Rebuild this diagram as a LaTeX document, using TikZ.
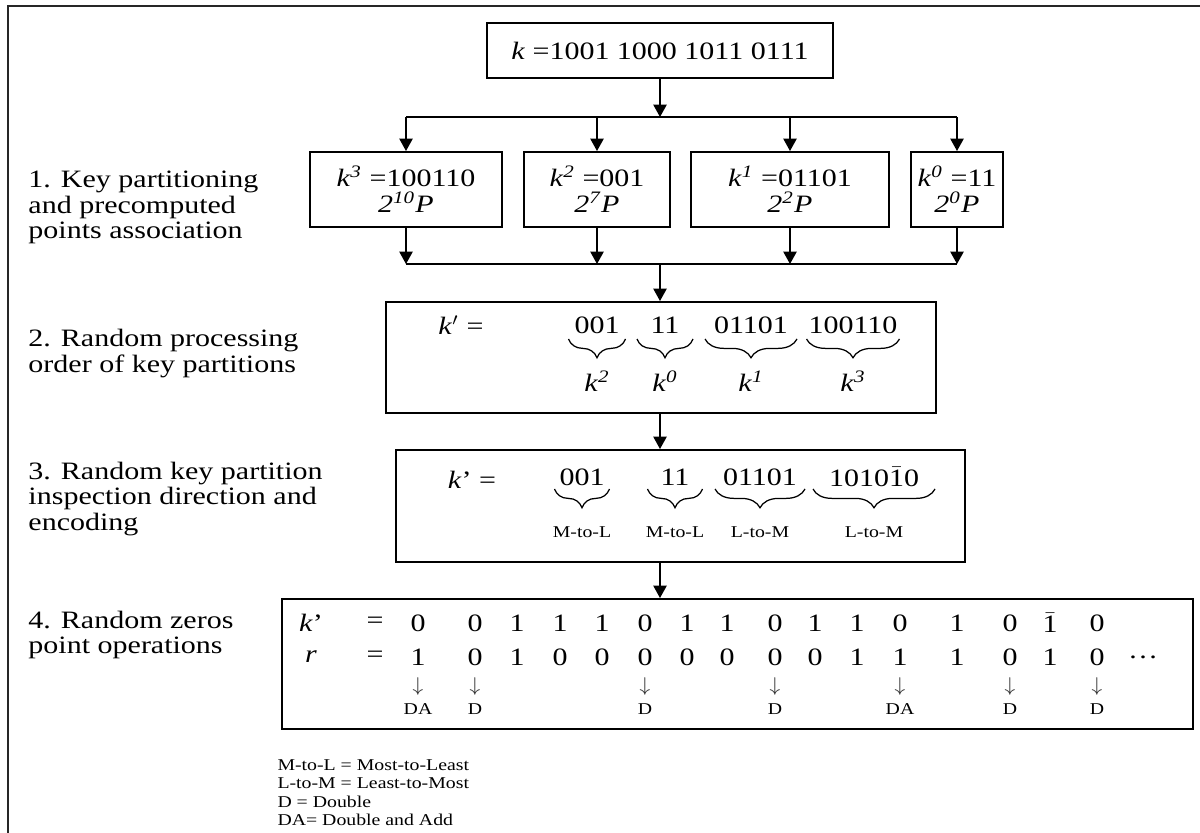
\documentclass[tikz,border=0pt]{standalone}
\usepackage{fontspec}
\setmainfont{Liberation Serif}[FakeStretch=1.2]
\usepackage{tikz}
\usetikzlibrary{arrows.meta,decorations.pathreplacing}
\tikzstyle{stagebox}=[draw, line width=0.8pt, inner sep=0pt, font=\fontsize{10}{10.4}\selectfont, align=center]
\tikzstyle{edge}=[line width=0.5pt]
\tikzstyle{dedge}=[edge,-{Triangle[length=5pt,width=5.4pt]}]
\tikzstyle{labelsty}=[font=\fontsize{10}{10.2}\selectfont, inner sep=0pt, align=left, anchor=west]
\tikzstyle{bits}=[font=\fontsize{10}{10.4}\selectfont, inner sep=0pt]
\tikzstyle{smallsty}=[font=\fontsize{6.6}{7.4}\selectfont, inner sep=0pt]
\tikzstyle{downsty}=[font=\fontsize{8.5}{8.5}\selectfont, inner sep=0pt, black!80]
\tikzstyle{brc}=[decorate, decoration={brace, mirror, amplitude=7.5pt}, line width=0.5pt]
\newcommand{\kpart}[1]{\textit{k}\textsuperscript{\textit{#1}}}
\newcommand{\negone}{$\bar{\mbox{1}}$}

\begin{document}
\begin{tikzpicture}[x=0.4pt,y=-0.4pt]
\useasboundingbox (0,0) rectangle (1200,833);
\draw[line width=0.8pt, black!85] (8,833) -- (8,6) -- (1200,6);

% key and partitions
\node[stagebox, minimum width=138.4pt, minimum height=22pt] (key) at (660,50.5) {\textit{k} =1001 1000 1011 0111};
\node[stagebox, minimum width=76.8pt, minimum height=30pt] (k3) at (406,189.5) {\kpart{3} =100110\\\textit{2\textsuperscript{10}P}};
\node[stagebox, minimum width=58.4pt, minimum height=30pt] (k2) at (597,189.5) {\kpart{2} =001\\\textit{2\textsuperscript{7}P}};
\node[stagebox, minimum width=79.2pt, minimum height=30pt] (k1) at (790,189.5) {\kpart{1} =01101\\\textit{2\textsuperscript{2}P}};
\node[stagebox, minimum width=36.8pt, minimum height=30pt] (k0) at (957,189.5) {\kpart{0} =11\\\textit{2\textsuperscript{0}P}};

\coordinate (split) at (660,117);
\coordinate (merge) at (660,264);
\draw[dedge] (key.south) -- (split);
\draw[edge] (split -| k3) -- (split -| k0);
\draw[edge] (merge -| k3) -- (merge -| k0);
\foreach \p in {k3,k2,k1,k0}{
  \draw[dedge] (split -| \p) -- (\p.north);
  \draw[dedge] (\p.south) -- (merge -| \p);
}

% stage boxes
\node[stagebox, minimum width=220pt, minimum height=44.4pt] (order) at (661,357.5) {};
\node[stagebox, minimum width=227.6pt, minimum height=44.8pt] (dir) at (680.5,506) {};
\node[stagebox, minimum width=364.4pt, minimum height=52pt] (zeros) at (737.5,664) {};
\draw[dedge] (merge) -- (merge |- order.north);
\draw[dedge] (merge |- order.south) -- (merge |- dir.north);
\draw[dedge] (merge |- dir.south) -- (merge |- zeros.north);

% step 2
\node[bits] (kord) at (461,325) {\textit{k}$'$ =};
\foreach \c/\w/\s/\l in {597/57/001/2, 665/56/11/0, 751/92/01101/1, 853/93/100110/3}{
  \node[bits] (o\l) at (\c,325) {\s};
  \draw[brc] ({\c-\w/2},339) -- ({\c+\w/2},339);
  \node[bits] (ol\l) at (\c,381) {\kpart{\l}};
}

% step 3
\node[bits] (kdir) at (472,480) {\textit{k}’ =};
\foreach \c/\w/\s/\d/\n in {582/55/001/M-to-L/a, 675/55/11/M-to-L/b, 760/90/01101/L-to-M/c, 874/122/1010\negone0/L-to-M/d}{
  \node[bits] (d\n) at (\c,477) {\s};
  \draw[brc] ({\c-\w/2},489) -- ({\c+\w/2},489);
  \node[smallsty] (dl\n) at (\c,532) {\d};
}

% step 4
\node[bits] (kz) at (311,623) {\textit{k}’};
\node[bits] (rz) at (311,657) {\textit{r}};
\node[bits] (eqk) at (375,623) {=};
\node[bits] (eqr) at (375,657) {=};
\foreach \x/\a/\b [count=\i] in {418/0/1, 475/0/0, 517/1/1, 560/1/0, 602/1/0, 645/0/0, 687/1/0, 727/1/0, 775/0/0, 815/1/0, 857/1/1, 900/0/1, 957/1/1, 1010/0/0, 1050/\negone/1, 1097/0/0}{
  \node[bits] (ka\i) at (\x,623) {\a};
  \node[bits] (rb\i) at (\x,657) {\b};
}
\node[bits] (dots) at (1143,657) {\dots};
\foreach \x/\op [count=\i] in {418/DA, 475/D, 645/D, 775/D, 900/DA, 1010/D, 1097/D}{
  \node[downsty] (ar\i) at (\x,686) {$\downarrow$};
  \node[smallsty] (op\i) at (\x,709) {\op};
}

% labels
\node[labelsty] (s1) at (28,207.5) {1. Key partitioning\\and precomputed\\points association};
\node[labelsty] (s2) at (28,353.5) {2. Random processing\\order of key partitions};
\node[labelsty] (s3) at (28,499) {3. Random key partition\\inspection direction and\\encoding};
\node[labelsty] (s4) at (28,635) {4. Random zeros\\point operations};
\node[smallsty, align=left, anchor=west] (legend) at (277,792.5) {M-to-L = Most-to-Least\\L-to-M = Least-to-Most\\D = Double\\DA= Double and Add};
\end{tikzpicture}
\end{document}
